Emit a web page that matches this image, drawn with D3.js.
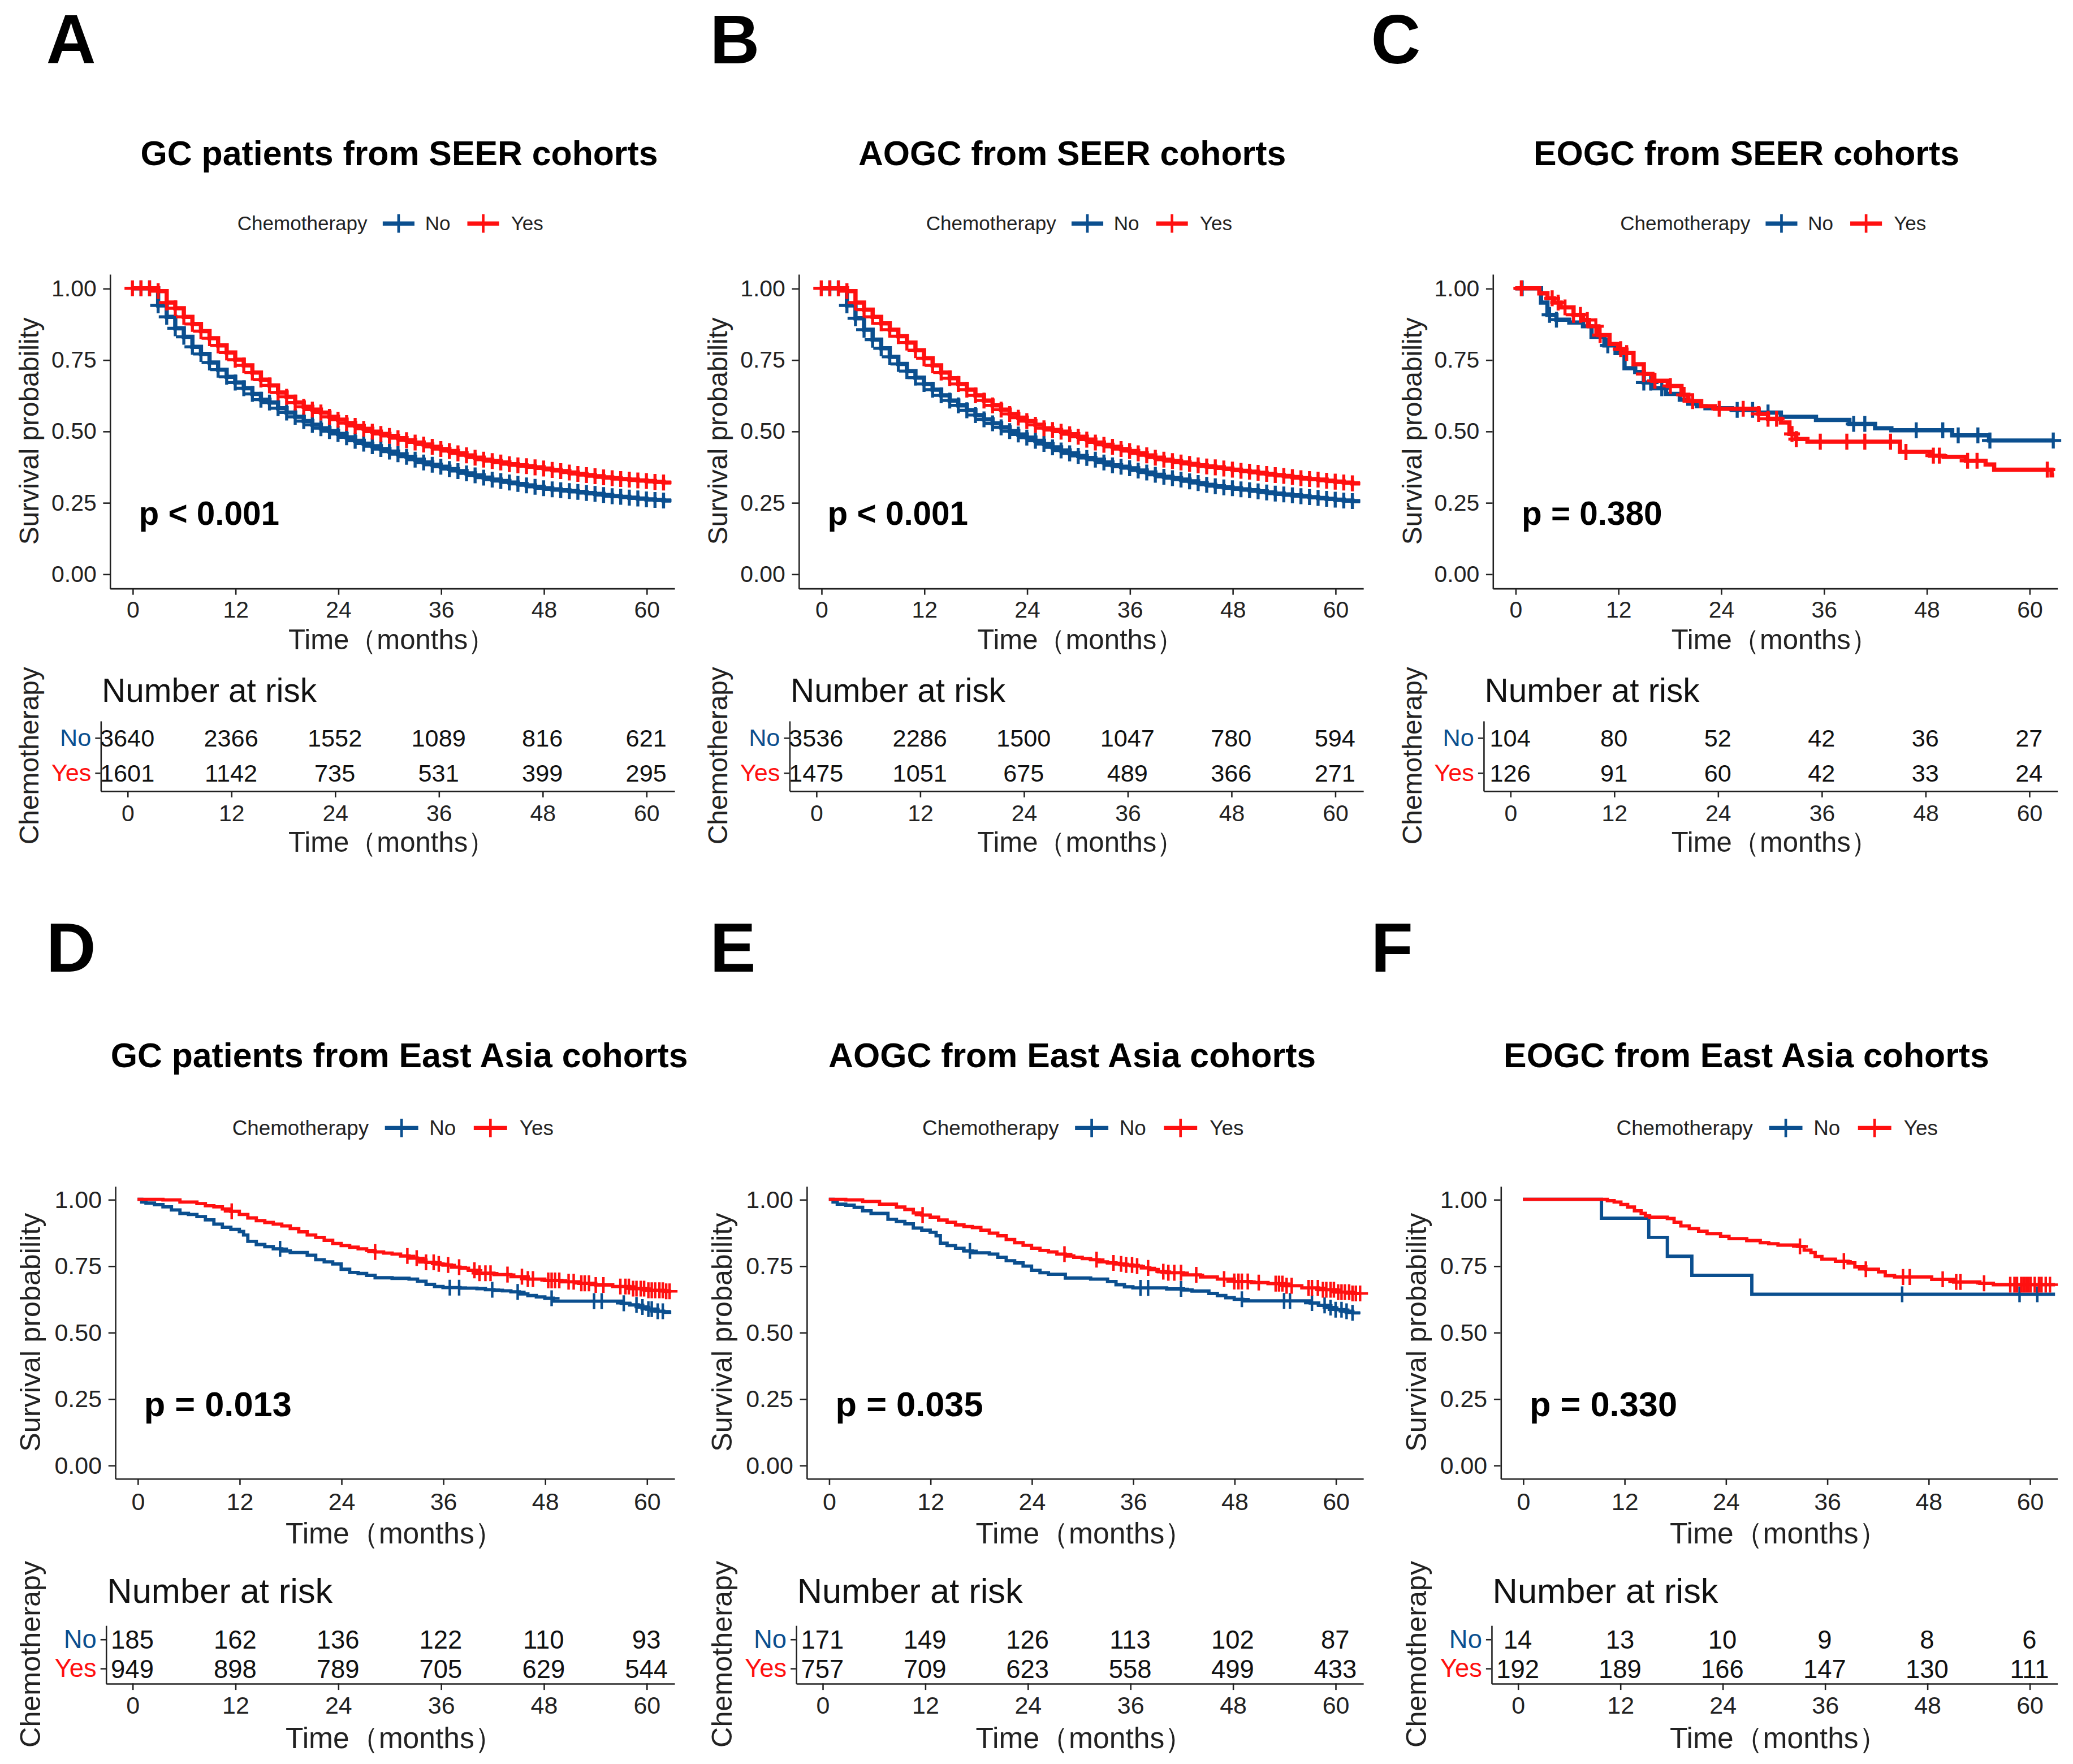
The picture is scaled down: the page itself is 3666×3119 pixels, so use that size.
<!DOCTYPE html>
<html lang="en">
<head>
<meta charset="UTF-8">
<title>Kaplan-Meier curves by chemotherapy</title>
<style>
  body { margin: 0; background: #fff; }
  svg { display: block; font-family: "Liberation Sans", Arial, sans-serif; }
  .axis path, .axis line { stroke: #222; stroke-width: 1.1; }
  .axis text { fill: #222; }
</style>
</head>
<body>
<script src="https://d3js.org/d3.v7.min.js"></script>
<script>
// ---- data ----
const GROUPS = ["No", "Yes"];
const COLORS = { No: "#0b4f8f", Yes: "#ff1010" };
const LETTERS = ["A", "B", "C", "D", "E", "F"];
const TITLES = [
  "GC patients from SEER cohorts", "AOGC from SEER cohorts", "EOGC from SEER cohorts",
  "GC patients from East Asia cohorts", "AOGC from East Asia cohorts", "EOGC from East Asia cohorts"
];
const PVALUES = ["p < 0.001", "p < 0.001", "p = 0.380", "p = 0.013", "p = 0.035", "p = 0.330"];
const Y_TICKS = [0, 0.25, 0.5, 0.75, 1];
const X_TICKS = [0, 12, 24, 36, 48, 60];

// SEER cohorts: survival at each month
const MONTHS = [0,1,2,3,4,5,6,7,8,9,10,11,12,13,14,15,16,17,18,19,20,21,22,23,24,25,26,27,28,29,30,
  31,32,33,34,35,36,37,38,39,40,41,42,43,44,45,46,47,48,49,50,51,52,53,54,55,56,57,58,59,60,61,62];
const A_YES = [1,1,1,0.99,0.95,0.93,0.90,0.875,0.85,0.825,0.80,0.775,0.75,0.73,0.705,0.68,0.66,0.635,0.62,0.60,
  0.585,0.575,0.565,0.55,0.54,0.528,0.518,0.508,0.498,0.49,0.483,0.475,0.468,0.46,0.453,0.445,0.437,0.43,0.422,
  0.415,0.407,0.40,0.395,0.39,0.384,0.38,0.377,0.373,0.369,0.364,0.36,0.355,0.35,0.346,0.342,0.338,0.335,0.332,
  0.33,0.327,0.325,0.322,0.32];
const A_NO = [1,1,1,0.94,0.90,0.86,0.83,0.795,0.77,0.74,0.715,0.69,0.67,0.65,0.63,0.61,0.60,0.58,0.565,0.55,
  0.535,0.522,0.51,0.50,0.49,0.478,0.466,0.456,0.447,0.437,0.428,0.419,0.41,0.40,0.39,0.382,0.375,0.367,0.36,
  0.352,0.345,0.337,0.33,0.325,0.32,0.315,0.31,0.305,0.30,0.296,0.293,0.29,0.287,0.283,0.28,0.276,0.272,0.27,
  0.267,0.264,0.261,0.259,0.257];
const B_YES = [1,1,1,0.99,0.95,0.925,0.90,0.877,0.855,0.832,0.81,0.783,0.755,0.73,0.705,0.685,0.665,0.645,0.625,
  0.607,0.59,0.575,0.56,0.547,0.535,0.522,0.51,0.504,0.498,0.489,0.48,0.47,0.46,0.452,0.445,0.437,0.43,0.422,
  0.415,0.407,0.40,0.395,0.39,0.385,0.38,0.376,0.373,0.369,0.365,0.361,0.358,0.354,0.35,0.346,0.343,0.339,0.335,
  0.332,0.33,0.326,0.323,0.32,0.317];
const B_NO = [1,1,1,0.94,0.895,0.855,0.82,0.79,0.76,0.735,0.71,0.687,0.665,0.645,0.625,0.607,0.59,0.573,0.556,
  0.541,0.527,0.513,0.50,0.488,0.477,0.466,0.455,0.443,0.432,0.422,0.413,0.406,0.40,0.39,0.38,0.375,0.37,0.362,
  0.355,0.347,0.34,0.335,0.33,0.324,0.318,0.312,0.307,0.303,0.30,0.296,0.293,0.289,0.285,0.281,0.278,0.275,0.272,
  0.269,0.266,0.263,0.26,0.257,0.255];

// smaller cohorts: [month, survival] at each step
const C_NO = [[0,1],[3.0,0.95],[3.75,0.907],[4.8,0.89],[6.3,0.88],[7.9,0.867],[8.9,0.83],[10.4,0.80],[11.7,0.773],
  [12.75,0.72],[14,0.707],[15,0.67],[16,0.65],[17.6,0.63],[19.2,0.61],[20.2,0.596],[21.2,0.587],[22.2,0.58],
  [25.3,0.574],[28.4,0.565],[31,0.55],[35.1,0.539],[39,0.525],[42,0.51],[43.9,0.503],[51,0.485],[55.3,0.467],[62.9,0.467]];
const C_YES = [[0,1],[2.8,0.982],[3.75,0.965],[4.5,0.95],[5.3,0.933],[6.8,0.907],[7.9,0.889],[8.6,0.867],[9.7,0.836],
  [11,0.805],[12,0.787],[12.75,0.773],[13.8,0.734],[15,0.70],[16,0.676],[17.8,0.658],[19.4,0.627],[20.2,0.605],
  [21.7,0.587],[23.3,0.578],[28.4,0.56],[29.5,0.543],[31,0.53],[32,0.49],[32.8,0.472],[34.1,0.463],[44.9,0.427],
  [48.4,0.414],[50,0.41],[52.6,0.396],[54.9,0.383],[55.9,0.365],[62.6,0.345],[62.9,0.345]];
const C_NO_CENS = [0.8,4,4.8,10.8,15,15.8,17.1,25.9,27.7,29.5,39.5,40.8,46.8,49.9,51.7,54,55.4,62.8];
const C_YES_CENS = [0.7,4.3,5,5.8,6.8,7.6,8.4,9.4,9.9,12.3,13,15,16.3,18.1,19.7,20.7,23.8,26.6,28.4,29.5,30.5,
  32.3,32.8,35.6,38.7,40.8,43.8,45.6,48.8,49.5,52.8,53.9,62.1];

const D_NO = [[0,1],[0.5,0.99],[1,0.986],[2,0.98],[3,0.972],[4,0.96],[5,0.947],[6,0.943],[7,0.935],[8,0.923],
  [9,0.907],[10,0.895],[11,0.887],[12,0.879],[12.5,0.866],[13,0.842],[14,0.83],[15,0.822],[16,0.814],[17,0.806],
  [18,0.80],[20,0.79],[21,0.773],[22,0.765],[23,0.757],[24,0.737],[25,0.725],[26,0.721],[27,0.714],[28,0.705],
  [30,0.703],[32,0.70],[33,0.692],[34,0.68],[35,0.672],[36,0.668],[38,0.666],[40,0.664],[41,0.66],[42,0.658],
  [43,0.656],[44,0.652],[45,0.644],[46,0.638],[47,0.633],[48,0.628],[49,0.617],[57,0.609],[58,0.603],[59,0.595],
  [60,0.587],[61,0.579],[62,0.575],[62.9,0.575]];
const D_YES = [[0,1],[3,0.998],[5,0.99],[7,0.984],[8,0.976],[9,0.972],[10,0.964],[11,0.955],[12,0.943],[13,0.93],
  [14,0.92],[15,0.913],[16,0.907],[17,0.90],[18,0.89],[19,0.878],[20,0.866],[21,0.857],[22,0.846],[23,0.834],
  [24,0.826],[25,0.82],[26,0.814],[27,0.808],[28,0.802],[29,0.798],[30,0.794],[31,0.787],[32,0.779],[33,0.771],
  [34,0.763],[35,0.757],[36,0.753],[37,0.745],[38,0.741],[39,0.733],[40,0.722],[42,0.717],[44,0.709],[46,0.70],
  [48,0.695],[50,0.69],[52,0.684],[54,0.678],[56,0.672],[58,0.664],[60,0.658],[62,0.654],[62.9,0.654]];
const D_NO_CENS = [16.8,36.8,37.9,41.8,44.8,48.8,53.8,54.7,57.3,58.8,59.5,60.2,60.6,61.3,61.9];
const D_YES_CENS = [11.1,28,31.8,32.9,34,34.9,35.5,36.6,37.9,39.7,40.3,41,41.6,43.6,45.3,46,46.6,48.4,48.8,49.2,
  49.7,50.8,51.4,52.3,52.7,53.2,54,54.9,56.9,57.5,57.9,58.4,58.8,59.3,59.7,60.2,60.6,61,61.5,61.9,62.3,62.7];

const E_NO = [[0,1],[0.5,0.99],[1,0.982],[2,0.978],[3,0.97],[4,0.957],[5,0.947],[7,0.925],[8,0.917],[9,0.908],
  [10,0.892],[11,0.884],[12,0.876],[12.7,0.863],[13.2,0.835],[14,0.826],[15,0.816],[16,0.806],[17,0.799],[19,0.794],
  [20,0.782],[21,0.769],[22,0.761],[23,0.749],[24,0.733],[25,0.724],[26,0.718],[28,0.704],[31,0.70],[33,0.691],
  [34,0.679],[35,0.671],[36,0.667],[40,0.663],[42,0.659],[43,0.655],[45,0.646],[46,0.638],[47,0.63],[48,0.624],
  [49,0.618],[57,0.61],[58,0.601],[59,0.593],[60,0.585],[61,0.579],[62,0.573],[62.9,0.573]];
const E_YES = [[0,1],[2,0.998],[4,0.992],[6,0.982],[8,0.971],[9,0.962],[10,0.949],[11,0.941],[12,0.933],[13,0.922],
  [14,0.914],[15,0.904],[16,0.898],[17,0.894],[18,0.884],[19,0.873],[20,0.863],[21,0.849],[22,0.837],[23,0.827],
  [24,0.816],[25,0.808],[26,0.802],[27,0.794],[28,0.787],[29,0.782],[30,0.777],[31,0.773],[32,0.765],[33,0.761],
  [34,0.757],[35,0.753],[36,0.749],[37,0.742],[38,0.736],[39,0.728],[40,0.724],[42,0.716],[44,0.708],[46,0.70],
  [48,0.691],[50,0.687],[52,0.683],[54,0.675],[56,0.667],[58,0.66],[60,0.651],[62,0.646],[62.9,0.646]];
const E_NO_CENS = [16.7,36.9,37.8,41.7,48.9,53.9,54.6,57.2,58.7,59.4,60,60.7,61.3,62];
const E_YES_CENS = [11.1,27.9,31.7,33.7,34.6,35.2,35.9,36.5,37.8,39.6,40.2,40.9,41.7,43.5,46.8,48,48.5,48.9,49.6,
  50.9,52.9,53.3,53.7,54.2,54.8,56.8,57.2,57.9,58.5,58.9,59.4,59.8,60.3,60.7,61.1,61.6,62,62.4,62.9];

const F_NO = [[0,1],[9.3,0.929],[14.9,0.857],[17.1,0.786],[20,0.714],[27.1,0.643],[63,0.643]];
const F_YES = [[0,1],[10,0.995],[10.8,0.99],[11.6,0.981],[12.4,0.971],[13.2,0.957],[14,0.947],[14.5,0.938],[15,0.933],
  [17.1,0.928],[17.9,0.914],[18.7,0.90],[19.7,0.89],[20.8,0.88],[21.8,0.871],[23.4,0.861],[24.4,0.852],[26.5,0.845],
  [28.1,0.837],[29.1,0.833],[30.2,0.828],[32.5,0.823],[33.3,0.809],[34.1,0.80],[34.6,0.785],[35.4,0.775],[37,0.767],
  [38.5,0.761],[39.3,0.746],[40.6,0.737],[42.1,0.727],[42.9,0.713],[44,0.708],[48.4,0.699],[51,0.689],[54.1,0.684],
  [55.7,0.679],[63,0.679]];
const F_NO_CENS = [44.9,58.8,60.9];
const F_YES_CENS = [32.8,38,40.6,45,45.8,49.7,51.3,51.8,54.6,57.7,58.2,58.5,59,59.3,59.6,59.8,60.1,60.6,61.1,61.4,61.9,62.4];

// numbers at risk at 0,12,...,60 months
const RISK_A_NO = [3640, 2366, 1552, 1089, 816, 621];
const RISK_A_YES = [1601, 1142, 735, 531, 399, 295];
const RISK_B_NO = [3536, 2286, 1500, 1047, 780, 594];
const RISK_B_YES = [1475, 1051, 675, 489, 366, 271];
const RISK_C_NO = [104, 80, 52, 42, 36, 27];
const RISK_C_YES = [126, 91, 60, 42, 33, 24];
const RISK_D_NO = [185, 162, 136, 122, 110, 93];
const RISK_D_YES = [949, 898, 789, 705, 629, 544];
const RISK_E_NO = [171, 149, 126, 113, 102, 87];
const RISK_E_YES = [757, 709, 623, 558, 499, 433];
const RISK_F_NO = [14, 13, 10, 9, 8, 6];
const RISK_F_YES = [192, 189, 166, 147, 130, 111];

// ---- build series objects ----
function monthly(vals) {
  const s = MONTHS.map((m, i) => [m, vals[i]]);
  s.push([62.9, vals[vals.length - 1]]);
  return s;
}
const SERIES = [
  { No: monthly(A_NO), Yes: monthly(A_YES), cens: { No: MONTHS.slice(1), Yes: MONTHS }, risk: { No: RISK_A_NO, Yes: RISK_A_YES } },
  { No: monthly(B_NO), Yes: monthly(B_YES), cens: { No: MONTHS.slice(1), Yes: MONTHS }, risk: { No: RISK_B_NO, Yes: RISK_B_YES } },
  { No: C_NO, Yes: C_YES, cens: { No: C_NO_CENS, Yes: C_YES_CENS }, risk: { No: RISK_C_NO, Yes: RISK_C_YES } },
  { No: D_NO, Yes: D_YES, cens: { No: D_NO_CENS, Yes: D_YES_CENS }, risk: { No: RISK_D_NO, Yes: RISK_D_YES } },
  { No: E_NO, Yes: E_YES, cens: { No: E_NO_CENS, Yes: E_YES_CENS }, risk: { No: RISK_E_NO, Yes: RISK_E_YES } },
  { No: F_NO, Yes: F_YES, cens: { No: F_NO_CENS, Yes: F_YES_CENS }, risk: { No: RISK_F_NO, Yes: RISK_F_YES } }
];

// ---- layout (in a 1568 x 1334 viewBox) ----
const W = 1568, H = 1334;
const COL = {
  letterX: [35, 537, 1037],
  titleX: [302, 811, 1321],
  right: [510, 1031, 1556]
};
const ROW = [
  { letterY: 48, titleY: 116, legendY: 169, y1: 218, y0: 434, plotLeft: [83, 604, 1129], tableLeft: [76, 597, 1122],
    tick: 467, time: 491, nar: 522, tTop: 545, tBot: 598, tTick: 621, tTime: 644, ylabOff: 61,
    lw: 3.2, cs: 6, cw: 2.3, fs: 1 },
  { letterY: 735, titleY: 798, legendY: 853, y1: 907, y0: 1108, plotLeft: [87, 610, 1135], tableLeft: [80, 602, 1128],
    tick: 1142, time: 1167, nar: 1203, tTop: 1229, tBot: 1273, tTick: 1296, tTime: 1322, ylabOff: 64,
    lw: 2.5, cs: 6, cw: 1.9, fs: 1.05 }
];

const svg = d3.select("body").append("svg")
  .attr("width", 3666).attr("height", 3119)
  .attr("viewBox", `0 0 ${W} ${H}`)
  .attr("preserveAspectRatio", "none");

function stepValue(steps, t) {
  let v = steps[0][1];
  for (const [tt, s] of steps) { if (tt <= t) v = s; else break; }
  return v;
}

function drawPanel(idx) {
  const r = ROW[Math.floor(idx / 3)], c = idx % 3;
  const fs = r.fs;
  const data = SERIES[idx];
  const left = r.plotLeft[c], right = COL.right[c];
  const g = svg.append("g");

  // panel letter and title
  g.append("text").attr("x", COL.letterX[c]).attr("y", r.letterY)
    .attr("font-size", 52).attr("font-weight", "bold").attr("fill", "#000").text(LETTERS[idx]);
  g.append("text").attr("x", COL.titleX[c]).attr("y", r.titleY).attr("dy", "0.35em")
    .attr("text-anchor", "middle").attr("font-size", 26).attr("font-weight", "bold").attr("fill", "#000")
    .text(TITLES[idx]);

  // legend
  const lx = (left + right) / 2 - 117 * fs, ly = r.legendY;
  const leg = g.append("g").attr("font-size", 15 * fs).attr("fill", "#222");
  leg.append("text").attr("x", lx).attr("y", ly).attr("dy", "0.35em").text("Chemotherapy");
  [["No", 110, 142], ["Yes", 174, 207]].forEach(([grp, sx, tx]) => {
    const s0 = lx + sx * fs;
    leg.append("line").attr("x1", s0).attr("x2", s0 + 24 * fs).attr("y1", ly).attr("y2", ly)
      .attr("stroke", COLORS[grp]).attr("stroke-width", 3.2);
    leg.append("line").attr("x1", s0 + 12 * fs).attr("x2", s0 + 12 * fs).attr("y1", ly - 7).attr("y2", ly + 7)
      .attr("stroke", COLORS[grp]).attr("stroke-width", 2);
    leg.append("text").attr("x", lx + tx * fs).attr("y", ly).attr("dy", "0.35em").text(grp);
  });

  // survival plot scales (5% expansion on y)
  const h = r.y0 - r.y1;
  const y = d3.scaleLinear().domain([-0.05, 1.05]).range([r.y0 + 0.05 * h, r.y1 - 0.05 * h]);
  const x = d3.scaleLinear().domain([-2.65, 63.25]).range([left, right]);

  const yAxis = g.append("g").attr("class", "axis").attr("transform", `translate(${left},0)`)
    .call(d3.axisLeft(y).tickValues(Y_TICKS).tickFormat(d3.format(".2f")).tickSize(5).tickSizeOuter(0).tickPadding(5));
  const xAxis = g.append("g").attr("class", "axis").attr("transform", `translate(0,${y.range()[0]})`)
    .call(d3.axisBottom(x).tickValues(X_TICKS).tickSize(5).tickSizeOuter(0).tickPadding(8));
  [yAxis, xAxis].forEach(a => a.selectAll("text").attr("font-size", 17.5 * fs).attr("font-family", null));
  xAxis.selectAll("text").attr("dy", null).attr("y", r.tick - y.range()[0]);

  g.append("text").attr("x", (left + right) / 2).attr("y", r.time).attr("text-anchor", "middle")
    .attr("font-size", 21 * fs).attr("fill", "#222").text("Time（months）");
  g.append("text").attr("transform", `translate(${left - r.ylabOff},${y(0.5)}) rotate(-90)`)
    .attr("dy", "0.35em").attr("text-anchor", "middle").attr("font-size", 20.5 * fs).attr("fill", "#222")
    .text("Survival probability");

  // curves and censoring marks
  const line = d3.line().x(d => x(d[0])).y(d => y(d[1])).curve(d3.curveStepAfter);
  GROUPS.forEach(grp => {
    g.append("path").datum(data[grp]).attr("d", line).attr("fill", "none")
      .attr("stroke", COLORS[grp]).attr("stroke-width", r.lw);
    const cs = r.cs;
    g.append("path")
      .attr("d", data.cens[grp].map(t => {
        const px = x(t), py = y(stepValue(data[grp], t));
        return `M${px - cs},${py}h${2 * cs}M${px},${py - cs}v${2 * cs}`;
      }).join(""))
      .attr("stroke", COLORS[grp]).attr("stroke-width", r.cw).attr("fill", "none");
  });

  g.append("text").attr("x", left + 22).attr("y", r.y0 - 37)
    .attr("font-size", 25 * fs).attr("font-weight", "bold").attr("fill", "#000").text(PVALUES[idx]);

  // risk table
  const tl = r.tableLeft[c];
  const tx = d3.scaleLinear().domain([-3.1, 63.25]).range([tl, right]);
  const ty = d3.scaleBand().domain(GROUPS).range([r.tTop, r.tBot]);

  g.append("text").attr("x", tl + 1).attr("y", r.nar).attr("dy", "0.35em")
    .attr("font-size", 25 * fs).attr("fill", "#111").text("Number at risk");

  const tyAxis = g.append("g").attr("class", "axis").attr("transform", `translate(${tl},0)`)
    .call(d3.axisLeft(ty).tickSize(4).tickSizeOuter(0).tickPadding(3));
  tyAxis.selectAll("text").attr("font-size", 18.5 * fs).attr("font-family", null)
    .style("fill", d => COLORS[d]);
  const txAxis = g.append("g").attr("class", "axis").attr("transform", `translate(0,${r.tBot})`)
    .call(d3.axisBottom(tx).tickValues(X_TICKS).tickSize(5).tickSizeOuter(0));
  txAxis.selectAll("text").attr("font-size", 17.5 * fs).attr("font-family", null)
    .attr("dy", null).attr("y", r.tTick - r.tBot);

  GROUPS.forEach(grp => {
    g.append("g").selectAll("text").data(data.risk[grp]).join("text")
      .attr("x", (d, i) => tx(X_TICKS[i])).attr("y", ty(grp) + ty.bandwidth() / 2).attr("dy", "0.35em")
      .attr("text-anchor", "middle").attr("font-size", 18.5 * fs).attr("fill", "#111").text(d => d);
  });

  g.append("text").attr("x", (left + right) / 2).attr("y", r.tTime).attr("text-anchor", "middle")
    .attr("font-size", 21 * fs).attr("fill", "#222").text("Time（months）");
  g.append("text").attr("transform", `translate(${left - r.ylabOff},${(r.tTop + r.tBot) / 2}) rotate(-90)`)
    .attr("dy", "0.35em").attr("text-anchor", "middle").attr("font-size", 20.5 * fs).attr("fill", "#222")
    .text("Chemotherapy");
}

d3.range(6).forEach(drawPanel);
</script>
</body>
</html>
